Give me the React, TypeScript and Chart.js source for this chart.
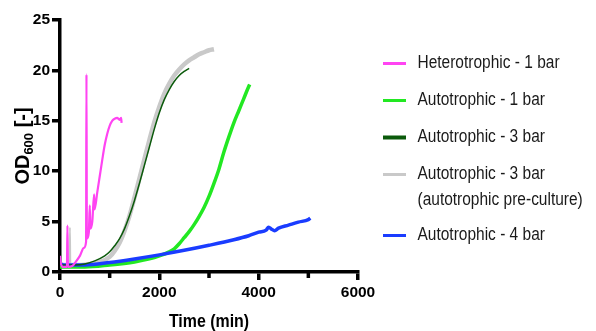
import React, { useEffect, useRef } from 'react';
import { Chart, registerables } from 'chart.js';

Chart.register(...registerables);

// ---- Data (time in min, OD600) ----
const heteroT = [0, 20, 60, 140, 150, 160, 250, 300, 400, 480, 525, 533, 541, 580, 600, 610, 650, 687, 695, 750, 800, 850, 900, 950, 1000, 1050, 1100, 1150, 1200, 1230, 1240];
const heteroOD = [1.6, 0.8, 0.5, 0.5, 4.6, 0.5, 0.6, 0.9, 1.6, 2.4, 3.0, 19.6, 3.3, 3.9, 6.6, 4.3, 5.0, 7.7, 6.2, 7.9, 9.5, 11.1, 12.6, 13.7, 14.5, 15.0, 15.2, 15.3, 15.1, 15.3, 14.8];

const auto1T = [0, 500, 1000, 1500, 1800, 2000, 2200, 2300, 2400, 2500, 2600, 2700, 2800, 2900, 3000, 3100, 3200, 3300, 3400, 3500, 3600, 3700, 3800, 3820];
const auto1OD = [0.5, 0.5, 0.7, 1.0, 1.3, 1.6, 2.0, 2.3, 2.8, 3.4, 4.0, 4.7, 5.5, 6.4, 7.5, 8.8, 10.2, 11.9, 13.4, 14.8, 16.0, 17.2, 18.4, 18.6];

const auto3T = [0, 300, 500, 700, 900, 1000, 1100, 1200, 1300, 1400, 1500, 1600, 1700, 1800, 1900, 2000, 2100, 2200, 2300, 2400, 2500, 2600];
const auto3OD = [0.7, 0.7, 0.8, 1.1, 1.6, 2.0, 2.6, 3.3, 4.3, 5.6, 7.1, 8.8, 10.6, 12.4, 14.2, 15.8, 17.1, 18.1, 18.9, 19.5, 19.9, 20.2];

const auto3preT = [0, 100, 190, 200, 210, 400, 600, 800, 1000, 1100, 1200, 1300, 1400, 1500, 1600, 1700, 1800, 1900, 2000, 2100, 2200, 2300, 2400, 2500, 2600, 2700, 2800, 2900, 3000, 3100];
const auto3preOD = [0.8, 0.7, 0.7, 4.4, 0.7, 0.7, 0.8, 1.0, 1.5, 2.1, 2.9, 4.1, 5.6, 7.4, 9.3, 11.2, 13.1, 14.9, 16.4, 17.7, 18.7, 19.5, 20.1, 20.6, 21.0, 21.3, 21.6, 21.8, 22.0, 22.1];

const auto4T = [0, 100, 500, 1000, 1500, 2000, 2500, 3000, 3500, 3800, 4000, 4150, 4200, 4260, 4320, 4400, 4600, 4800, 5000, 5040];
const auto4OD = [0.8, 0.7, 0.7, 0.95, 1.3, 1.7, 2.15, 2.65, 3.2, 3.6, 3.95, 4.15, 4.45, 4.25, 4.1, 4.35, 4.65, 4.95, 5.2, 5.35];

const seriesLabels = [
  ['Heterotrophic - 1 bar'],
  ['Autotrophic - 1 bar'],
  ['Autotrophic - 3 bar'],
  ['Autotrophic - 3 bar', '(autotrophic pre-culture)'],
  ['Autotrophic - 4 bar'],
];
const seriesColors = ['#ff44f2', '#22e822', '#0b5a0b', '#c9c9c9', '#1a3cff'];
const seriesWidths = [2.2, 3.5, 1.5, 4.5, 3.5];
const legendWidths = [3, 3, 4, 3, 3];
const seriesOrder = [0, 3, 1, 4, 2];
// indices of segments belonging to the thin start-up spike of the pre-culture series
const thinSegments = [[], [], [], [2, 3], []];

const xMajorTicks = [0, 2000, 4000, 6000];
const xMinorTicks = [1000, 3000, 5000];

const toXY = (t: number[], v: number[]) => t.map((x, i) => ({ x, y: v[i] }));

const FONT = '"Liberation Sans", Arial, sans-serif';

const overlayPlugin = {
  id: 'overlay',
  afterDraw(chart: any) {
    const ctx = chart.ctx as CanvasRenderingContext2D;
    const area = chart.chartArea;
    const xs = chart.scales.x;
    ctx.save();

    // minor x ticks (shorter)
    ctx.strokeStyle = '#000';
    ctx.lineWidth = 3.5;
    xMinorTicks.forEach((v) => {
      const px = xs.getPixelForValue(v);
      ctx.beginPath();
      ctx.moveTo(px, area.bottom);
      ctx.lineTo(px, area.bottom + 6);
      ctx.stroke();
    });

    // Legend
    let y = 63.5;
    const lineX0 = area.right + 25;
    const textX = area.right + 59.5;
    for (let i = 0; i < seriesLabels.length; i++) {
      ctx.strokeStyle = seriesColors[i];
      ctx.lineWidth = legendWidths[i];
      ctx.beginPath();
      ctx.moveTo(lineX0, y);
      ctx.lineTo(lineX0 + 23, y);
      ctx.stroke();
      ctx.fillStyle = '#1a1a1a';
      ctx.font = `17.5px ${FONT}`;
      ctx.textBaseline = 'middle';
      ctx.textAlign = 'left';
      seriesLabels[i].forEach((line, j) => {
        ctx.save();
        ctx.translate(textX, y + j * 25.5);
        ctx.scale(0.885, 1);
        ctx.fillText(line, 0, 0);
        ctx.restore();
      });
      y += 37 + (seriesLabels[i].length - 1) * 24;
    }

    // X title
    ctx.fillStyle = '#000';
    ctx.font = `bold 18.5px ${FONT}`;
    ctx.textAlign = 'center';
    ctx.textBaseline = 'alphabetic';
    ctx.save();
    ctx.translate((area.left + area.right) / 2, 326.5);
    ctx.scale(0.86, 1);
    ctx.fillText('Time (min)', 0, 0);
    ctx.restore();

    // Y title with subscript
    const cy = (area.top + area.bottom) / 2;
    ctx.save();
    ctx.translate(29, cy);
    ctx.rotate(-Math.PI / 2);
    ctx.textAlign = 'left';
    const big = `bold 20px ${FONT}`;
    const small = `bold 13px ${FONT}`;
    ctx.font = big;
    const w1 = ctx.measureText('OD').width;
    const w3 = ctx.measureText(' [-]').width;
    ctx.font = small;
    const w2 = ctx.measureText('600').width;
    const total = w1 + w2 + w3;
    let x = -total / 2;
    ctx.font = big;
    ctx.fillText('OD', x, 0);
    x += w1;
    ctx.font = small;
    ctx.fillText('600', x, 4);
    x += w2;
    ctx.font = big;
    ctx.fillText(' [-]', x, 0);
    ctx.restore();

    ctx.restore();
  },
};

export default function App() {
  const ref = useRef<HTMLCanvasElement | null>(null);
  useEffect(() => {
    if (!ref.current) return;
    const tList = [heteroT, auto1T, auto3T, auto3preT, auto4T];
    const vList = [heteroOD, auto1OD, auto3OD, auto3preOD, auto4OD];
    const chart = new Chart(ref.current, {
      type: 'line',
      data: {
        datasets: tList.map((t, i) => ({
          label: seriesLabels[i].join(' '),
          data: toXY(t, vList[i]),
          borderColor: seriesColors[i],
          backgroundColor: seriesColors[i],
          borderWidth: seriesWidths[i],
          pointRadius: 0,
          fill: false,
          cubicInterpolationMode: 'monotone' as const,
          order: seriesOrder[i],
          segment: {
            borderWidth: (c: any) => ((thinSegments[i] as number[]).includes(c.p0DataIndex) ? 1.8 : undefined),
          },
        })),
      },
      options: {
        animation: false,
        responsive: true,
        maintainAspectRatio: false,
        layout: { padding: { left: 0, top: 20, right: 238, bottom: 0 } },
        plugins: {
          legend: { display: false },
          tooltip: { enabled: false },
        },
        scales: {
          x: {
            type: 'linear',
            min: 0,
            max: 6000,
            afterFit: (s: any) => {
              s.height = 59;
            },
            ticks: {
              stepSize: 1000,
              autoSkip: false,
              maxRotation: 0,
              padding: 3,
              color: '#000',
              font: { family: FONT, size: 15.5, weight: 'bold' },
              callback: (v: any) => (xMajorTicks.includes(Number(v)) ? String(v) : ''),
            },
            grid: {
              drawOnChartArea: false,
              drawTicks: true,
              tickLength: 8,
              lineWidth: 3.5,
              color: '#000',
              tickColor: (c: any) => (c.tick && xMinorTicks.includes(c.tick.value) ? 'rgba(0,0,0,0)' : '#000'),
            },
            border: { display: true, width: 3.5, color: '#000' },
          },
          y: {
            min: 0,
            max: 25,
            afterFit: (s: any) => {
              s.width = 60;
            },
            ticks: {
              stepSize: 5,
              padding: 2,
              color: '#000',
              font: { family: FONT, size: 15.5, weight: 'bold' },
            },
            grid: { drawOnChartArea: false, drawTicks: true, tickLength: 8, lineWidth: 3.5, color: '#000' },
            border: { display: true, width: 3.5, color: '#000' },
          },
        },
      },
      plugins: [overlayPlugin],
    });
    return () => chart.destroy();
  }, []);
  return (
    <div style={{ position: 'absolute', left: 0, top: 0, width: 596, height: 331, background: '#fff' }}>
      <canvas ref={ref} />
    </div>
  );
}
